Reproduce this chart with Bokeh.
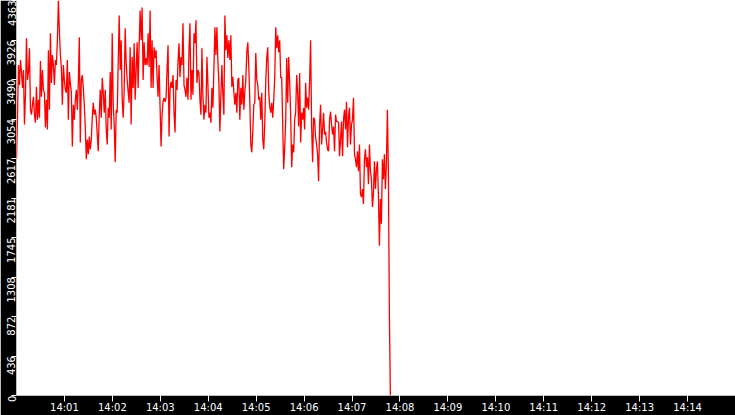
import math
import pandas as pd
from bokeh.plotting import figure
from bokeh.models import Range1d, FixedTicker, DatetimeTickFormatter
from bokeh.embed import file_html
from bokeh.resources import INLINE

day = "2024-01-01"
start_time = "14:00:00"
end_time = "14:07:48"
range_start = "14:00:00"
range_end = "14:15:00"

seg1 = [2609, 3069, 3650, 3431, 3705, 3573, 3398, 3595, 2993, 3321, 3946, 3486, 3573, 3836, 3157,
        3102, 3212, 3299, 3102, 3014, 3409, 3047, 3267, 3069, 3694, 3299, 3595, 3376, 3343, 2960,
        3267, 2938, 3814, 3157, 4001, 3453, 3760, 3650, 3431, 3705, 3650, 3924, 4363, 4034, 3760,
        3628, 3212, 3650, 3486, 3376, 3343, 3705, 3047, 3573, 3453, 3354, 2751, 3212, 3047, 3267,
        3376, 3157, 3453, 3957, 2795, 3486, 3540, 3398, 3212, 2960, 2609, 2828, 2664, 2861, 2719]
seg2 = [2828, 3069, 3234, 3102, 3157, 3069, 2883, 2697, 3102, 3376, 3069, 3508, 3343, 3124, 3376,
        2938, 2773, 3179, 3069, 3573, 2938, 4001, 3212, 2993, 2576, 3157, 3124, 3672, 4198, 3595,
        3924, 3267, 3069, 3376, 4056, 3683, 3486, 3354, 3234, 3847, 2993, 3738, 3398, 3891, 3267,
        3595, 3902, 3398, 3869, 4253, 3924, 4286, 3486, 3902, 3650, 3727, 3650, 4001, 3628, 4253,
        3398, 3924, 3398, 3847, 3727, 3814, 3519, 3299, 3650, 3190, 2751, 3102, 3245, 3288]
seg3 = [3245, 3288, 3595, 3869, 2861, 3376, 3464, 3398, 3540, 3124, 2905, 3486, 3376, 3683, 3891,
        3519, 3738, 3650, 4111, 3431, 3376, 3299, 3508, 3267, 3814, 4111, 3267, 3595, 3321, 4001,
        3891, 4144, 3453, 3595, 3562, 3267, 3102, 3836, 3299, 3047, 3212, 3124, 3738, 3431, 3069,
        3124, 3014, 3398, 3179, 3617, 4067, 3760, 4067, 3683, 3453, 2916, 3321, 3650, 3321, 3102,
        4198, 3814, 3979, 3727, 3924, 3705, 3979, 3409, 3519, 3354, 3212, 3343, 3124, 3486]
seg4 = [3508, 3047, 3398, 3212, 3540, 3157, 3354, 3486, 3793, 3902, 3628, 3267, 2773, 2686, 2916,
        3212, 3234, 3782, 3486, 3431, 3267, 3299, 3047, 3343, 2828, 2719, 3014, 3464, 3727, 3847,
        3354, 3190, 3124, 3234, 3069, 3267, 3508, 4067, 3836, 3979, 3793, 3924, 3508, 3519, 2993,
        2499, 2741, 3025, 3727, 3234, 3738, 3453, 3102, 2521, 2773, 2686, 3047, 3124, 3540, 3343,
        2971, 3562, 2795, 3124, 3047, 3179, 2938, 3453, 3179, 3288, 3157, 3486, 3924, 2971]
seg5 = [2576, 3069, 3047, 2850, 2773, 2664, 2368, 2993, 3212, 2773, 2938, 3124, 2883, 2916, 2795,
        2719, 2697, 3047, 3135, 2993, 2883, 2971, 2697, 3102, 3025, 3025, 3014, 2642, 2828, 3025,
        2642, 3047, 3157, 2938, 3245, 2741, 3080, 3179, 2773, 2993, 3047, 3288, 2664, 2609, 2521,
        2697, 2477, 2773, 2225, 2192, 2280, 2116, 2609, 2719, 2521, 2631, 2335, 2773, 2477, 2390,
        2083, 2225, 2587, 2280, 2499, 2587, 2214, 1655, 2170, 1896, 2609, 2390, 2664, 2280, 2554,
        3157, 2477, 888, 0]

x_tick_labels = ["14:01", "14:02", "14:03", "14:04", "14:05", "14:06", "14:07",
                 "14:08", "14:09", "14:10", "14:11", "14:12", "14:13", "14:14"]
y_ticks = [0, 436, 872, 1308, 1745, 2181, 2617, 3054, 3490, 3926, 4363]

values = seg1 + seg2 + seg3 + seg4 + seg5
times = pd.date_range(f"{day} {start_time}", f"{day} {end_time}", periods=len(values))

x0 = pd.Timestamp(f"{day} {range_start}")
x1 = pd.Timestamp(f"{day} {range_end}")
x_tick_ms = [pd.Timestamp(f"{day} {t}").value // 10**6 for t in x_tick_labels]

FONT = "DejaVu Sans"

p = figure(width=735, height=415, x_axis_type="datetime", output_backend="svg",
           toolbar_location=None, x_range=Range1d(x0, x1), y_range=Range1d(0, y_ticks[-1]),
           min_border_left=15, min_border_bottom=17, min_border_top=0, min_border_right=0,
           background_fill_color="white", border_fill_color="black", outline_line_color=None)
p.grid.visible = False

p.line(times, values, line_color="#ff0000", line_width=1.3)

xa = p.xaxis[0]
xa.ticker = FixedTicker(ticks=x_tick_ms)
xa.formatter = DatetimeTickFormatter(seconds="%H:%M", minsec="%H:%M", minutes="%H:%M",
                                     hourmin="%H:%M", hours="%H:%M")
xa.axis_line_color = None
xa.major_tick_line_color = "white"
xa.major_tick_out = 6
xa.major_tick_in = 0
xa.minor_tick_line_color = None
xa.major_label_text_color = "white"
xa.major_label_text_font = FONT
xa.major_label_text_font_size = "10px"
xa.major_label_standoff = 0

ya = p.yaxis[0]
ya.ticker = FixedTicker(ticks=y_ticks)
ya.axis_line_color = None
ya.major_tick_line_color = "white"
ya.major_tick_out = 5
ya.major_tick_in = 0
ya.minor_tick_line_color = None
ya.major_label_orientation = math.pi / 2
ya.major_label_text_color = "white"
ya.major_label_text_font = FONT
ya.major_label_text_font_size = "10px"
ya.major_label_standoff = 0

open("out.html", "w").write(file_html(p, INLINE))
